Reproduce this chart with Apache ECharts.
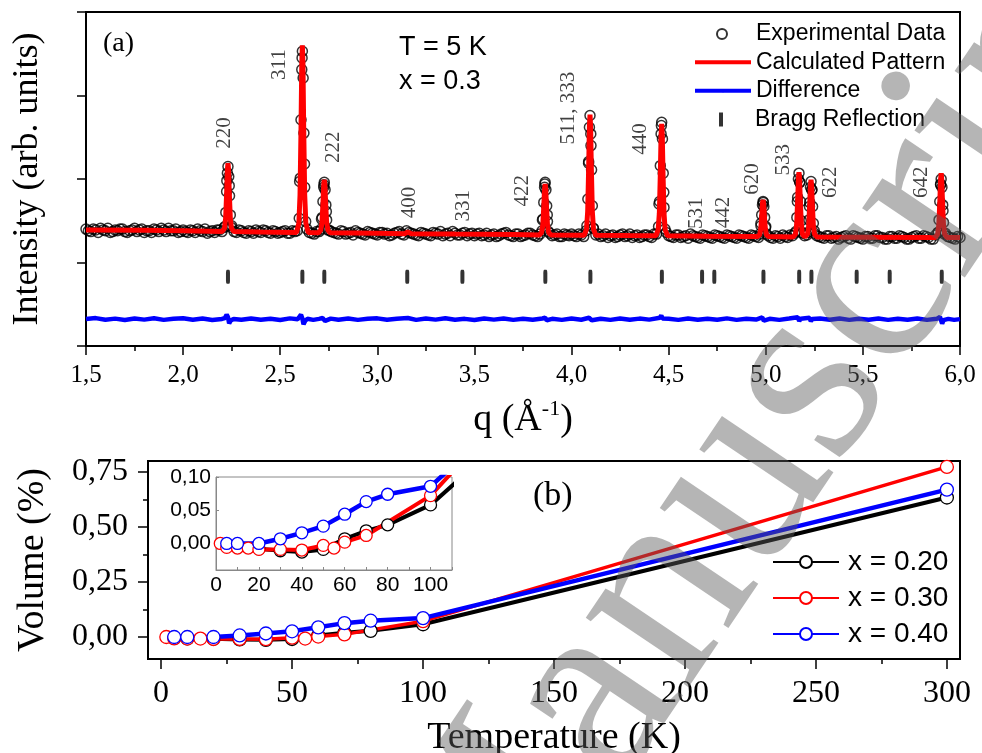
<!DOCTYPE html>
<html>
<head>
<meta charset="utf-8">
<title>Powder pattern and volume change</title>
<script src="https://cdn.jsdelivr.net/npm/echarts@6.0.0/dist/echarts.min.js"></script>
<style>
html, body { margin: 0; padding: 0; background: #fff; }
#chart { width: 982px; height: 753px; }
</style>
</head>
<body>
<div id="chart"></div>
<script>
// ---------- panel (a): diffraction pattern, T = 5 K, x = 0.3 ----------
// experimental points on the measuring grid: q = expStart + i * expStep (two interleaved sweeps)
const expStart = 1.5;
const expStart2 = 1.5125;
const expStep = 0.025;
const expBackground = [
  1.40, 1.37, 1.39, 1.41, 1.38, 1.36, 1.39, 1.40, 1.37, 1.38, 1.41, 1.39, 1.36, 1.38, 1.40, 1.37, 1.39, 1.41, 1.38, 1.36,
  1.39, 1.36, 1.38, 1.40, 1.37, 1.35, 1.38, 1.39, 1.37, 1.98, 1.44, 1.36, 1.38, 1.35, 1.37, 1.39, 1.36, 1.38, 1.35, 1.37,
  1.36, 1.38, 1.35, 1.37, 1.97, 2.18, 1.36, 1.34, 1.37, 1.93, 1.39, 1.36, 1.34, 1.37, 1.35, 1.33, 1.36, 1.34, 1.37, 1.35,
  1.33, 1.36, 1.35, 1.33, 1.36, 1.34, 1.38, 1.35, 1.33, 1.36, 1.34, 1.32, 1.35, 1.37, 1.34, 1.32, 1.35, 1.33, 1.36, 1.34,
  1.32, 1.35, 1.33, 1.31, 1.34, 1.32, 1.35, 1.33, 1.31, 1.34, 1.32, 1.35, 1.33, 1.31, 1.51, 1.57, 1.32, 1.34, 1.31, 1.33,
  1.34, 1.31, 1.33, 1.38, 2.40, 1.33, 1.31, 1.34, 1.32, 1.30, 1.33, 1.31, 1.34, 1.32, 1.30, 1.33, 1.31, 1.34, 1.70, 1.84,
  1.32, 1.30, 1.33, 1.31, 1.29, 1.32, 1.30, 1.33, 1.31, 1.29, 1.32, 1.30, 1.33, 1.31, 1.29, 1.32, 1.30, 1.33, 1.31, 1.47,
  1.43, 1.30, 1.32, 1.29, 1.31, 1.33, 1.35, 1.96, 1.32, 1.67, 1.38, 1.31, 1.29, 1.32, 1.30, 1.28, 1.31, 1.29, 1.32, 1.30,
  1.28, 1.31, 1.29, 1.32, 1.30, 1.28, 1.31, 1.29, 1.31, 1.28, 1.30, 1.32, 1.29, 1.31, 1.28, 1.33, 1.94, 1.35, 1.30, 1.28,
  1.30
];
const expBackground2 = [
  1.38, 1.40, 1.36, 1.39, 1.41, 1.37, 1.38, 1.40, 1.36, 1.39, 1.37, 1.40, 1.38, 1.36, 1.39, 1.41, 1.37, 1.38, 1.40, 1.37,
  1.37, 1.39, 1.36, 1.38, 1.40, 1.37, 1.36, 1.39, 1.42, 1.92, 1.37, 1.39, 1.36, 1.38, 1.35, 1.37, 1.39, 1.36, 1.38, 1.35,
  1.37, 1.35, 1.38, 1.38, 3.45, 1.40, 1.35, 1.37, 1.52, 1.61, 1.37, 1.35, 1.38, 1.34, 1.36, 1.38, 1.35, 1.33, 1.36, 1.34,
  1.36, 1.34, 1.32, 1.35, 1.37, 1.33, 1.36, 1.34, 1.32, 1.35, 1.33, 1.36, 1.34, 1.32, 1.35, 1.37, 1.33, 1.35, 1.32, 1.35,
  1.34, 1.32, 1.35, 1.33, 1.31, 1.34, 1.36, 1.32, 1.34, 1.31, 1.33, 1.35, 1.32, 1.34, 1.94, 1.35, 1.33, 1.31, 1.34, 1.32,
  1.32, 1.34, 1.31, 2.19, 1.41, 1.34, 1.32, 1.30, 1.33, 1.31, 1.34, 1.32, 1.30, 1.33, 1.31, 1.33, 1.30, 1.34, 2.64, 1.36,
  1.31, 1.33, 1.30, 1.32, 1.34, 1.31, 1.29, 1.32, 1.30, 1.33, 1.31, 1.29, 1.32, 1.30, 1.33, 1.31, 1.29, 1.32, 1.30, 1.72,
  1.32, 1.29, 1.31, 1.33, 1.30, 1.32, 1.73, 1.36, 1.33, 1.87, 1.32, 1.30, 1.32, 1.29, 1.31, 1.30, 1.32, 1.28, 1.31, 1.29,
  1.31, 1.29, 1.32, 1.30, 1.28, 1.31, 1.29, 1.32, 1.30, 1.28, 1.31, 1.29, 1.32, 1.30, 1.28, 1.36, 1.62, 1.31, 1.29, 1.31
];
// extra experimental points measured across the Bragg peaks [q, intensity]
const expPeaks = [
  [2.215, 1.43], [2.220, 1.60], [2.224, 1.85], [2.228, 2.07], [2.231, 2.15], [2.235, 2.03], [2.239, 1.80], [2.243, 1.57], [2.248, 1.42],
  [2.598, 1.53], [2.603, 2.01], [2.607, 2.71], [2.611, 3.31], [2.614, 3.53], [2.618, 3.21], [2.622, 2.55], [2.626, 1.90], [2.631, 1.49],
  [2.711, 1.40], [2.716, 1.54], [2.720, 1.73], [2.724, 1.90], [2.727, 1.96], [2.731, 1.87], [2.735, 1.69], [2.739, 1.51], [2.744, 1.39],
  [3.848, 1.38], [3.853, 1.52], [3.857, 1.72], [3.861, 1.90], [3.864, 1.96], [3.868, 1.87], [3.872, 1.68], [3.876, 1.49], [3.881, 1.37],
  [4.079, 1.44], [4.084, 1.76], [4.088, 2.21], [4.092, 2.62], [4.095, 2.76], [4.099, 2.54], [4.103, 2.11], [4.107, 1.68], [4.112, 1.41],
  [4.448, 1.43], [4.453, 1.73], [4.457, 2.16], [4.461, 2.54], [4.464, 2.68], [4.468, 2.48], [4.472, 2.07], [4.476, 1.66], [4.481, 1.40],
  [4.970, 1.34], [4.975, 1.44], [4.979, 1.57], [4.983, 1.69], [4.986, 1.73], [4.990, 1.67], [4.994, 1.54], [4.998, 1.42], [5.003, 1.34],
  [5.155, 1.37], [5.160, 1.54], [5.164, 1.78], [5.168, 2.00], [5.171, 2.07], [5.175, 1.96], [5.179, 1.73], [5.183, 1.50], [5.188, 1.35],
  [5.217, 1.36], [5.222, 1.51], [5.226, 1.72], [5.230, 1.90], [5.233, 1.97], [5.237, 1.87], [5.241, 1.67], [5.245, 1.47], [5.250, 1.35],
  [5.887, 1.36], [5.892, 1.51], [5.896, 1.73], [5.900, 1.93], [5.903, 2.00], [5.907, 1.90], [5.911, 1.69], [5.915, 1.48], [5.920, 1.34]
];
const calcPattern = [
  [1.50, 1.39], [1.80, 1.385], [2.00, 1.38],
  [2.201, 1.37], [2.213, 1.41], [2.219, 1.53], [2.224, 1.82], [2.228, 2.11], [2.231, 2.19], [2.234, 2.11], [2.238, 1.82], [2.243, 1.53], [2.249, 1.41], [2.261, 1.37],
  [2.40, 1.365],
  [2.584, 1.36], [2.596, 1.47], [2.602, 1.81], [2.607, 2.59], [2.611, 3.38], [2.614, 3.60], [2.617, 3.38], [2.621, 2.59], [2.626, 1.81], [2.632, 1.47], [2.644, 1.36],
  [2.697, 1.355], [2.709, 1.39], [2.715, 1.48], [2.720, 1.70], [2.724, 1.93], [2.727, 1.99], [2.730, 1.93], [2.734, 1.70], [2.739, 1.48], [2.745, 1.39], [2.757, 1.355],
  [3.00, 1.35], [3.140, 1.345], [3.150, 1.355], [3.157, 1.365], [3.164, 1.355], [3.175, 1.345], [3.40, 1.34], [3.70, 1.335],
  [3.834, 1.33], [3.846, 1.36], [3.852, 1.45], [3.857, 1.67], [3.861, 1.88], [3.864, 1.94], [3.867, 1.88], [3.871, 1.67], [3.876, 1.45], [3.882, 1.36], [3.894, 1.33],
  [4.065, 1.325], [4.077, 1.40], [4.083, 1.61], [4.088, 2.12], [4.092, 2.63], [4.095, 2.77], [4.098, 2.63], [4.102, 2.12], [4.107, 1.61], [4.113, 1.40], [4.125, 1.325],
  [4.30, 1.322],
  [4.434, 1.32], [4.446, 1.39], [4.452, 1.59], [4.457, 2.06], [4.461, 2.53], [4.464, 2.66], [4.467, 2.53], [4.471, 2.06], [4.476, 1.59], [4.482, 1.39], [4.494, 1.32],
  [4.70, 1.315],
  [4.956, 1.31], [4.968, 1.33], [4.974, 1.40], [4.979, 1.55], [4.983, 1.71], [4.986, 1.75], [4.989, 1.71], [4.993, 1.55], [4.998, 1.40], [5.004, 1.33], [5.016, 1.31],
  [5.141, 1.305], [5.153, 1.34], [5.159, 1.46], [5.164, 1.73], [5.168, 2.00], [5.171, 2.08], [5.174, 2.00], [5.178, 1.73], [5.183, 1.46], [5.189, 1.34], [5.201, 1.305],
  [5.215, 1.34], [5.221, 1.44], [5.226, 1.68], [5.230, 1.92], [5.233, 1.99], [5.236, 1.92], [5.240, 1.68], [5.245, 1.44], [5.251, 1.34], [5.263, 1.305],
  [5.50, 1.303],
  [5.873, 1.30], [5.885, 1.34], [5.891, 1.45], [5.896, 1.72], [5.900, 1.99], [5.903, 2.07], [5.906, 1.99], [5.910, 1.72], [5.915, 1.45], [5.921, 1.34], [5.933, 1.30],
  [6.00, 1.30]
];
const diffCurve = [
  [1.50, 0.322], [1.55, 0.334], [1.60, 0.314], [1.65, 0.328], [1.70, 0.312], [1.75, 0.330], [1.80, 0.316], [1.85, 0.332], [1.90, 0.313], [1.95, 0.326],
  [2.00, 0.333], [2.05, 0.315], [2.10, 0.329], [2.15, 0.312], [2.20, 0.324], [2.215, 0.335], [2.224, 0.375], [2.231, 0.345], [2.237, 0.270], [2.245, 0.305], [2.26, 0.324],
  [2.30, 0.314], [2.35, 0.330], [2.40, 0.315], [2.45, 0.327], [2.50, 0.312], [2.55, 0.331], [2.59, 0.320], [2.600, 0.340], [2.607, 0.375], [2.614, 0.330], [2.620, 0.260], [2.628, 0.300], [2.64, 0.326],
  [2.67, 0.313], [2.70, 0.325], [2.718, 0.335], [2.724, 0.350], [2.731, 0.300], [2.738, 0.315], [2.76, 0.328], [2.80, 0.314], [2.85, 0.330], [2.90, 0.313], [2.95, 0.325],
  [3.00, 0.331], [3.05, 0.314], [3.10, 0.327], [3.157, 0.336], [3.20, 0.313], [3.25, 0.329], [3.30, 0.316], [3.35, 0.332], [3.40, 0.314], [3.45, 0.325],
  [3.50, 0.312], [3.55, 0.329], [3.60, 0.316], [3.65, 0.330], [3.70, 0.313], [3.75, 0.327], [3.80, 0.315], [3.85, 0.329], [3.864, 0.338], [3.872, 0.308], [3.90, 0.325], [3.95, 0.313],
  [4.00, 0.329], [4.05, 0.315], [4.09, 0.338], [4.097, 0.346], [4.104, 0.308], [4.15, 0.326], [4.20, 0.313], [4.25, 0.330], [4.30, 0.315], [4.35, 0.328], [4.40, 0.316],
  [4.455, 0.338], [4.462, 0.365], [4.468, 0.330], [4.475, 0.312], [4.50, 0.326], [4.55, 0.313], [4.60, 0.330], [4.65, 0.315], [4.70, 0.327], [4.75, 0.314], [4.80, 0.331],
  [4.85, 0.313], [4.90, 0.326], [4.95, 0.316], [4.982, 0.342], [4.99, 0.303], [5.02, 0.326], [5.07, 0.313], [5.12, 0.329], [5.165, 0.344], [5.172, 0.298], [5.18, 0.327],
  [5.225, 0.338], [5.232, 0.298], [5.24, 0.322], [5.28, 0.330], [5.33, 0.314], [5.38, 0.329], [5.43, 0.313], [5.48, 0.327], [5.53, 0.315], [5.58, 0.330], [5.63, 0.313],
  [5.68, 0.326], [5.73, 0.315], [5.78, 0.329], [5.83, 0.313], [5.88, 0.325], [5.897, 0.348], [5.903, 0.362], [5.908, 0.268], [5.915, 0.310], [5.94, 0.325], [5.97, 0.313], [6.00, 0.322]
];
const braggQ = [2.231, 2.614, 2.727, 3.154, 3.438, 3.865, 4.097, 4.465, 4.672, 4.735, 4.988, 5.172, 5.235, 5.468, 5.638, 5.906];
// Miller indices written above the reflections: [label, q, height]
const hklLabels = [
  ['220', 2.211, 2.55], ['311', 2.494, 3.37], ['222', 2.772, 2.38], ['400', 3.168, 1.72],
  ['331', 3.446, 1.68], ['422', 3.745, 1.86], ['511, 333', 3.982, 2.85], ['440', 4.353, 2.48],
  ['531', 4.641, 1.59], ['442', 4.780, 1.60], ['620', 4.929, 2.00], ['533', 5.089, 2.23],
  ['622', 5.331, 1.96], ['642', 5.800, 1.96]
];

// ---------- panel (b): volume change vs temperature ----------
const temp20 = [5, 10, 20, 30, 40, 50, 60, 70, 80, 100, 300];
const vol20 = [-0.004, -0.006, -0.008, -0.011, -0.013, -0.009, 0.007, 0.019, 0.028, 0.058, 0.634];
const temp30 = [2, 5, 10, 15, 20, 30, 40, 50, 55, 60, 70, 100, 300];
const vol30 = [0.000, -0.006, -0.007, -0.007, -0.009, -0.009, -0.010, -0.003, -0.007, 0.002, 0.012, 0.072, 0.773];
const temp40 = [5, 10, 20, 30, 40, 50, 60, 70, 80, 100, 300];
const vol40 = [0.000, 0.000, 0.000, 0.007, 0.016, 0.026, 0.044, 0.063, 0.074, 0.086, 0.670];

const tempTicks = [0, 50, 100, 150, 200, 250, 300];
const tempMinorTicks = [25, 75, 125, 175, 225, 275];
const volTicks = [0, 0.25, 0.5, 0.75];
const volMinorTicks = [0.125, 0.375, 0.625];
const insetTempTicks = [0, 20, 40, 60, 80, 100];
const insetTempMinor = [10, 30, 50, 70, 90, 110];
const insetVolTicks = [0, 0.05, 0.10];

const SERIF = '"Liberation Serif", "Times New Roman", serif';
const SANS = '"Liberation Sans", Arial, sans-serif';
const comma = (d) => (v) => v.toFixed(d).replace('.', ',');

const expData = expBackground.map((v, i) => [expStart + i * expStep, v])
  .concat(expBackground2.map((v, i) => [expStart2 + i * expStep, v]))
  .concat(expPeaks);
const braggLevel = 0.83;

const chart = echarts.init(document.getElementById('chart'), null, { renderer: 'canvas' });

function volSeries(name, temps, vols, color, width, axisIdx, size) {
  return {
    name: name,
    type: 'line',
    xAxisIndex: axisIdx,
    yAxisIndex: axisIdx,
    data: temps.map((t, i) => [t, vols[i]]),
    symbol: 'circle',
    symbolSize: size,
    showAllSymbol: true,
    lineStyle: { color: color, width: width },
    itemStyle: { color: '#fff', borderColor: color, borderWidth: 1.3 },
    emphasis: { disabled: true },
    silent: true
  };
}

const blackAxis = { show: true, onZero: false, lineStyle: { color: '#000', width: 2 } };
const legendText = { fontFamily: SANS, fontSize: 23, color: '#000', lineHeight: 29 };

const option = {
  animation: false,
  backgroundColor: '#fff',
  title: [
    { text: '(a)', left: 103, top: 29, padding: 0,
      textStyle: { fontFamily: SERIF, fontSize: 28, fontWeight: 'normal', color: '#000', lineHeight: 30 } },
    { text: 'T = 5 K\nx = 0.3', left: 399, top: 31, padding: 0,
      textStyle: { fontFamily: SANS, fontSize: 27, fontWeight: 'normal', color: '#000', lineHeight: 34 } },
    { text: '(b)', left: 533, top: 478, padding: 0,
      textStyle: { fontFamily: SERIF, fontSize: 34, fontWeight: 'normal', color: '#000', lineHeight: 36 } }
  ],
  legend: [
    { data: [{ name: 'Experimental Data', icon: 'circle' }], left: 716, top: 19.5, padding: 0,
      itemWidth: 10, itemHeight: 10, selectedMode: false,
      textStyle: Object.assign({ padding: [0, 0, 0, 24] }, legendText) },
    { data: ['Calculated Pattern', 'Difference'], left: 693, top: 48, padding: 0, orient: 'vertical',
      itemWidth: 56, itemHeight: 4, itemGap: 0, selectedMode: false, lineStyle: { width: 4 },
      textStyle: Object.assign({}, legendText, { lineHeight: 28.5 }) },
    { data: [{ name: 'Bragg Reflection', icon: 'rect' }], left: 719, top: 105, padding: 0,
      itemWidth: 4, itemHeight: 14, selectedMode: false, symbolKeepAspect: false,
      textStyle: Object.assign({ padding: [0, 0, 0, 27] }, legendText) },
    { data: ['x = 0.20', 'x = 0.30', 'x = 0.40'], left: 772, top: 544, padding: 0, orient: 'vertical',
      itemWidth: 66, itemHeight: 15, itemGap: 0, selectedMode: false,
      textStyle: { fontFamily: SANS, fontSize: 28, color: '#000', lineHeight: 36, padding: [0, 0, 0, 4] } }
  ],
  grid: [
    { left: 86, top: 12, width: 874, height: 334, show: true, borderColor: '#000', borderWidth: 2,
      backgroundColor: 'transparent', containLabel: false, outerBoundsMode: 'none' },
    { left: 148, top: 461, width: 812, height: 198, show: true, borderColor: '#000', borderWidth: 2,
      backgroundColor: 'transparent', containLabel: false, outerBoundsMode: 'none' },
    { left: 216, top: 477, width: 236, height: 93, show: true, borderColor: '#888', borderWidth: 1,
      backgroundColor: '#fff', containLabel: false, outerBoundsMode: 'none' }
  ],
  xAxis: [
    { gridIndex: 0, type: 'value', min: 1.5, max: 6.0, interval: 0.5, position: 'bottom',
      axisLine: blackAxis,
      axisTick: { show: true, inside: false, length: 9, lineStyle: { color: '#000', width: 1.5 } },
      minorTick: { show: true, splitNumber: 2, length: 5, lineStyle: { color: '#000', width: 1.5 } },
      splitLine: { show: false }, minorSplitLine: { show: false },
      axisLabel: { show: true, margin: 17, formatter: comma(1), fontFamily: SERIF, fontSize: 25, color: '#000' },
      name: 'q (Å{sup|-1})', nameLocation: 'middle', nameGap: 52, nameMoveOverlap: false,
      nameTextStyle: { fontFamily: SERIF, fontSize: 38, color: '#000',
        rich: { sup: { fontFamily: SERIF, fontSize: 22, color: '#000', padding: [0, 0, 22, 0] } } } },
    { gridIndex: 1, type: 'value', min: -5, max: 305, position: 'bottom',
      axisLine: blackAxis,
      axisTick: { show: true, inside: false, length: 10, customValues: tempTicks, lineStyle: { color: '#000', width: 1.5 } },
      splitLine: { show: false },
      axisLabel: { show: true, margin: 19, customValues: tempTicks, fontFamily: SERIF, fontSize: 32, color: '#000' },
      name: 'Temperature (K)', nameLocation: 'middle', nameGap: 60, nameMoveOverlap: false,
      nameTextStyle: { fontFamily: SERIF, fontSize: 38, color: '#000' } },
    { gridIndex: 2, type: 'value', min: 0, max: 110, position: 'bottom',
      axisLine: { show: true, onZero: false, lineStyle: { color: '#888', width: 1 } },
      axisTick: { show: true, inside: true, length: 3, customValues: insetTempTicks.concat(insetTempMinor), lineStyle: { color: '#888' } },
      splitLine: { show: false },
      axisLabel: { show: true, margin: 5, customValues: insetTempTicks, fontFamily: SANS, fontSize: 21, color: '#000' } },
    { gridIndex: 1, type: 'value', min: -5, max: 305, position: 'bottom',
      axisLine: { show: false, onZero: false },
      axisTick: { show: true, inside: false, length: 5, customValues: tempMinorTicks, lineStyle: { color: '#000', width: 1.5 } },
      splitLine: { show: false }, axisLabel: { show: false } }
  ],
  yAxis: [
    { gridIndex: 0, type: 'value', min: 0, max: 4, interval: 1, position: 'left',
      axisLine: blackAxis,
      axisTick: { show: true, inside: false, length: 9, lineStyle: { color: '#000', width: 1.5 } },
      splitLine: { show: false }, axisLabel: { show: false },
      name: 'Intensity (arb. units)', nameLocation: 'middle', nameGap: 40, nameMoveOverlap: false,
      nameTextStyle: { fontFamily: SERIF, fontSize: 36, color: '#000' } },
    { gridIndex: 1, type: 'value', min: -0.1, max: 0.8, position: 'left',
      axisLine: blackAxis,
      axisTick: { show: true, inside: false, length: 10, customValues: volTicks, lineStyle: { color: '#000', width: 1.5 } },
      splitLine: { show: false },
      axisLabel: { show: true, margin: 20, customValues: volTicks, formatter: comma(2), fontFamily: SERIF, fontSize: 32, color: '#000' },
      name: 'Volume (%)', nameLocation: 'middle', nameGap: 96, nameMoveOverlap: false,
      nameTextStyle: { fontFamily: SERIF, fontSize: 38, color: '#000' } },
    { gridIndex: 2, type: 'value', min: -0.04, max: 0.10, position: 'left',
      axisLine: { show: true, onZero: false, lineStyle: { color: '#888', width: 1 } },
      axisTick: { show: true, inside: true, length: 3, customValues: insetVolTicks, lineStyle: { color: '#888' } },
      splitLine: { show: false },
      axisLabel: { show: true, margin: 5, customValues: insetVolTicks, formatter: comma(2), fontFamily: SANS, fontSize: 21, color: '#000' } },
    { gridIndex: 1, type: 'value', min: -0.1, max: 0.8, position: 'left',
      axisLine: { show: false, onZero: false },
      axisTick: { show: true, inside: false, length: 5, customValues: volMinorTicks, lineStyle: { color: '#000', width: 1.5 } },
      splitLine: { show: false }, axisLabel: { show: false } }
  ],
  series: [
    { name: 'Experimental Data', type: 'scatter', xAxisIndex: 0, yAxisIndex: 0, data: expData,
      symbol: 'circle', symbolSize: 10, silent: true, large: false,
      itemStyle: { color: 'rgba(0,0,0,0)', borderColor: '#000', borderWidth: 1.5 } },
    { name: 'Calculated Pattern', type: 'line', xAxisIndex: 0, yAxisIndex: 0, data: calcPattern,
      symbol: 'none', silent: true, lineStyle: { color: '#ff0000', width: 5 }, itemStyle: { color: '#ff0000' } },
    { name: 'Difference', type: 'line', xAxisIndex: 0, yAxisIndex: 0, data: diffCurve,
      symbol: 'none', silent: true, lineStyle: { color: '#0000ff', width: 4.5 }, itemStyle: { color: '#0000ff' } },
    { name: 'Bragg Reflection', type: 'scatter', xAxisIndex: 0, yAxisIndex: 0,
      data: braggQ.map((q) => [q, braggLevel]),
      symbol: 'roundRect', symbolSize: [4, 14], silent: true, itemStyle: { color: '#000' } },
    { name: 'hkl', type: 'scatter', xAxisIndex: 0, yAxisIndex: 0, silent: true,
      data: hklLabels.map((h) => ({ name: h[0], value: [h[1], h[2]] })),
      symbolSize: 1, itemStyle: { color: 'rgba(0,0,0,0)' },
      label: { show: true, position: 'inside', rotate: 90, formatter: (p) => p.name,
        fontFamily: SERIF, fontSize: 21, color: '#111' } },
    volSeries('x = 0.20', temp20, vol20, '#000', 4, 1, 13),
    volSeries('x = 0.30', temp30, vol30, '#ff0000', 3.5, 1, 13),
    volSeries('x = 0.40', temp40, vol40, '#0000ff', 4.5, 1, 13),
    volSeries('x = 0.20', temp20, vol20, '#000', 4, 2, 12),
    volSeries('x = 0.30', temp30, vol30, '#ff0000', 4, 2, 12),
    volSeries('x = 0.40', temp40, vol40, '#0000ff', 4.5, 2, 12)
  ],
  graphic: [
    // "Accepted manuscript" style watermark laid over the figure
    { type: 'text', x: 425, y: 951, rotation: 56 * Math.PI / 180, z: 100, silent: true,
      style: { text: 'Manuscript', fontFamily: SERIF, fontSize: 270,
        fill: 'rgba(90,90,90,0.45)', align: 'left', verticalAlign: 'middle' } }
  ]
};

chart.setOption(option);
</script>
</body>
</html>
